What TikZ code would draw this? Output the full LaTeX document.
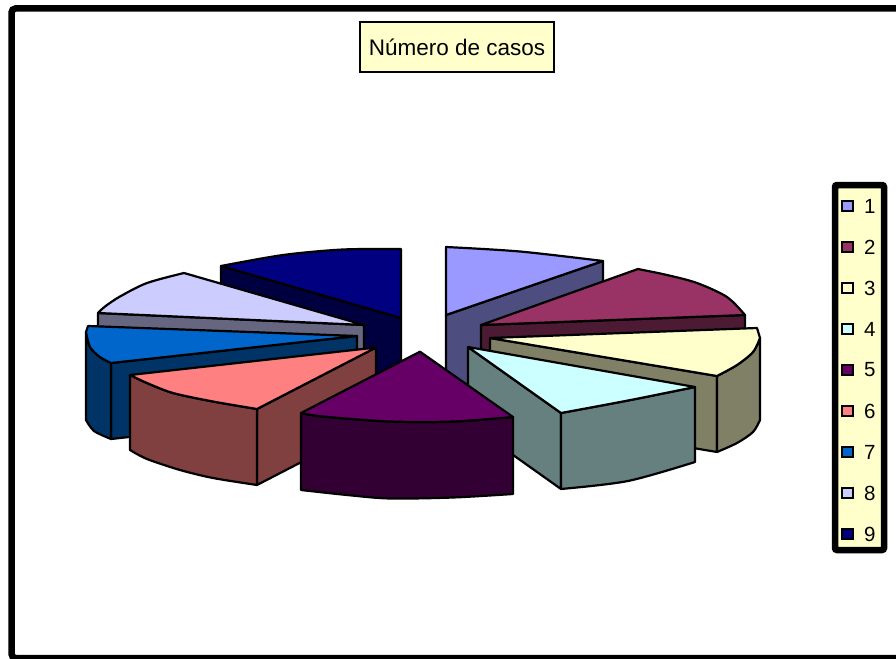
\documentclass[tikz,border=0pt]{standalone}
\usepackage{fontspec}
\setmainfont{Liberation Sans}
\usepackage{xcolor}

% slice colours (top face / side face)
\definecolor{top1}{HTML}{9999FF}  \definecolor{side1}{HTML}{4D4D80}
\definecolor{top2}{HTML}{993366}  \definecolor{side2}{HTML}{4D1A33}
\definecolor{top3}{HTML}{FFFFCC}  \definecolor{side3}{HTML}{808066}
\definecolor{top4}{HTML}{CCFFFF}  \definecolor{side4}{HTML}{668080}
\definecolor{top5}{HTML}{660066}  \definecolor{side5}{HTML}{330033}
\definecolor{top6}{HTML}{FF8080}  \definecolor{side6}{HTML}{804040}
\definecolor{top7}{HTML}{0066CC}  \definecolor{side7}{HTML}{003366}
\definecolor{top8}{HTML}{CCCCFF}  \definecolor{side8}{HTML}{666680}
\definecolor{top9}{HTML}{000080}  \definecolor{side9}{HTML}{000040}
\definecolor{paper}{HTML}{FFFFCC}

\begin{document}
\begin{tikzpicture}[
    x=1pt, y=-1pt,
    slice/.style = {
      draw=black,
      line width=2.2pt,
      line join=round
    },
    titlebox/.style = {
      draw,
      fill=paper,
      line width=2pt,
      minimum width=194pt,
      minimum height=50pt,
      inner sep=0pt,
      font=\fontsize{22.5}{27}\selectfont
    },
    legendkey/.style = {
      draw,
      line width=1.6pt,
      minimum size=10.5pt,
      inner sep=0pt
    },
    legendtext/.style = {
      anchor=west,
      inner sep=0pt,
      font=\fontsize{20.5}{23}\selectfont
    }
  ]

    \useasboundingbox (0,0) rectangle (896,658);
    \clip (0,0) rectangle (896,658);

    % Outer frame (runs off the right edge)
    \draw[line width=6.5pt, rounded corners=4pt] (11.5,8.5) rectangle (910,658);

    % Title
    \node[titlebox] (title) at (457,47) {Número de casos};

    % Back slices first
    % Slice 1
    \filldraw[slice, fill=side1] (446,315) -- (603,261) -- (603,337) -- (446,391) -- cycle;
    \filldraw[slice, fill=top1] (446,315) -- plot[smooth] coordinates {(446,247) (520,251.5) (603,261)} -- cycle;

    % Slice 9
    \filldraw[slice, fill=side9] (401,318) -- (221,266) -- (221,338) -- (401,390) -- cycle;
    \filldraw[slice, fill=top9] (401,318) -- plot[smooth] coordinates {(401,249) (343,249.5) (283,255) (221,266)} -- cycle;

    % Slice 2
    \filldraw[slice, fill=side2] (481,325) -- (745,315) -- (745,391) -- (481,401) -- cycle;
    \filldraw[slice, fill=top2] (481,325) -- plot[smooth] coordinates {(638,269) (667,275) (697,283) (727,297) (745,315)} -- cycle;

    % Slice 8
    \filldraw[slice, fill=side8] (364,325) -- (98,313) -- (98,389) -- (364,401) -- cycle;
    \filldraw[slice, fill=top8] (364,325) -- plot[smooth] coordinates {(184,273) (147,283) (120,296.5) (105,306.5) (98,313)} -- cycle;

    % Slice 3
    \filldraw[slice, fill=side3] (490,338) -- (717,376) -- (717,452) -- (490,414) -- cycle;
    \filldraw[slice, fill=side3] plot[smooth] coordinates {(760,338) (753,352) (737,365) (717,376)}
      -- plot[smooth] coordinates {(717,452) (737,443) (753,432) (760,420)} -- cycle;
    \filldraw[slice, fill=top3] (490,338) -- (757,328) -- plot[smooth] coordinates {(760,338) (753,352) (737,365) (717,376)} -- cycle;

    % Slice 7
    \filldraw[slice, fill=side7] (357,336) -- (111,363) -- (111,439) -- (357,412) -- cycle;
    \filldraw[slice, fill=side7] plot[smooth] coordinates {(86,332) (90,347) (100,357) (111,363)}
      -- plot[smooth] coordinates {(111,439) (94,431) (86,420)} -- cycle;
    \filldraw[slice, fill=top7] (357,336) -- (88,326) -- plot[smooth] coordinates {(86,332) (90,347) (100,357) (111,363)} -- cycle;

    % Slice 4
    \filldraw[slice, fill=side4] (468,347) -- (561,413) -- (561,489) -- (468,423) -- cycle;
    \filldraw[slice, fill=side4] plot[smooth] coordinates {(561,413) (628,400.5) (695,387)}
      -- plot[smooth] coordinates {(695,462) (628,481) (561,489)} -- cycle;
    \filldraw[slice, fill=top4] (468,347) -- plot[smooth] coordinates {(695,387) (628,400.5) (561,413)} -- cycle;

    % Slice 6
    \filldraw[slice, fill=side6] (376,347.5) -- (257,409) -- (257,485) -- (376,423.5) -- cycle;
    \filldraw[slice, fill=side6] plot[smooth] coordinates {(130,375) (147,383) (173,393) (213,401.5) (257,409)}
      -- plot[smooth] coordinates {(257,485) (213,478) (180,470) (147,459) (130,450)} -- cycle;
    \filldraw[slice, fill=top6] (376,347.5) -- plot[smooth] coordinates {(130,375) (147,383) (173,393) (213,401.5) (257,409)} -- cycle;

    % Slice 5 in front
    \filldraw[slice, fill=side5] plot[smooth] coordinates {(301,413) (323,416.5) (390,421.5) (453,421.5) (513,417)}
      -- plot[smooth] coordinates {(513,494) (453,497.5) (390,498.5) (347,495) (301,490)} -- cycle;
    \filldraw[slice, fill=top5] (420,351.7) -- plot[smooth] coordinates {(301,413) (323,416.5) (390,421.5) (453,421.5) (513,417)} -- cycle;

    % Legend
    \draw[line width=6.5pt, rounded corners=2pt, fill=paper] (835,185) rectangle (884,550);

    \node[legendkey, fill=top1] (key1) at (847.5,206) {};
    \node[legendkey, fill=top2] (key2) at (847.5,247) {};
    \node[legendkey, fill=top3] (key3) at (847.5,288) {};
    \node[legendkey, fill=top4] (key4) at (847.5,329) {};
    \node[legendkey, fill=top5] (key5) at (847.5,370) {};
    \node[legendkey, fill=top6] (key6) at (847.5,411) {};
    \node[legendkey, fill=top7] (key7) at (847.5,452) {};
    \node[legendkey, fill=top8] (key8) at (847.5,493) {};
    \node[legendkey, fill=top9] (key9) at (847.5,534) {};

    \node[legendtext] (lab1) at (864,206) {1};
    \node[legendtext] (lab2) at (864,247) {2};
    \node[legendtext] (lab3) at (864,288) {3};
    \node[legendtext] (lab4) at (864,329) {4};
    \node[legendtext] (lab5) at (864,370) {5};
    \node[legendtext] (lab6) at (864,411) {6};
    \node[legendtext] (lab7) at (864,452) {7};
    \node[legendtext] (lab8) at (864,493) {8};
    \node[legendtext] (lab9) at (864,534) {9};

  \end{tikzpicture}
\end{document}
